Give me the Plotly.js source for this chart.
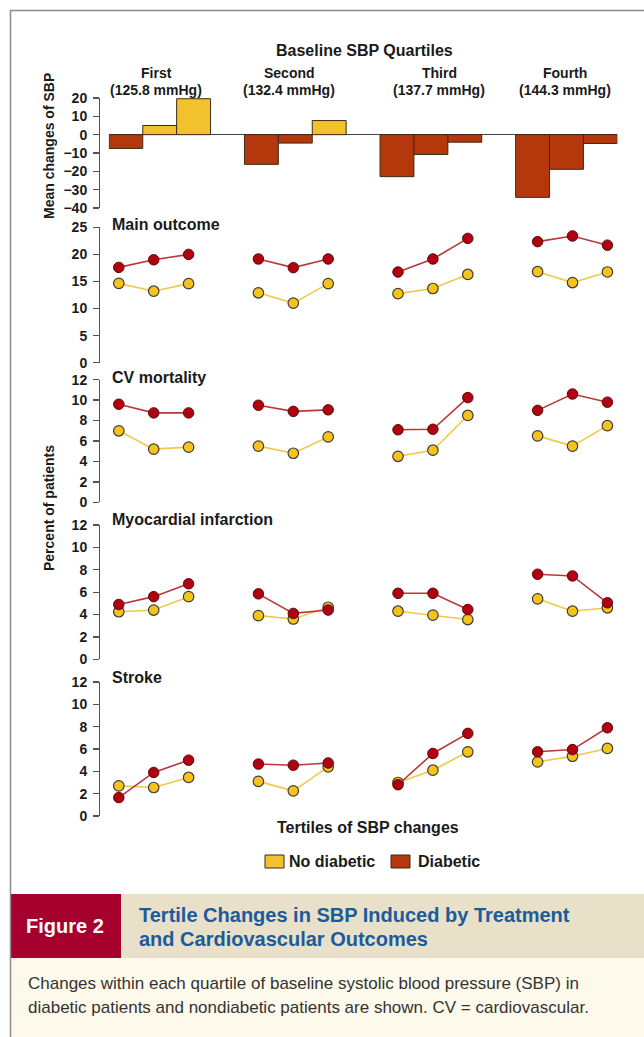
<!DOCTYPE html>
<html><head><meta charset="utf-8">
<script src="https://cdn.plot.ly/plotly-3.0.1.min.js"></script>
<style>html,body{margin:0;padding:0;background:#fff}#chart{width:644px;height:1037px}</style>
</head><body><div id="chart"></div>
<script>
// ---------- data ----------
const quartiles = ['First', 'Second', 'Third', 'Fourth'];
const baselineSBP = ['(125.8 mmHg)', '(132.4 mmHg)', '(137.7 mmHg)', '(144.3 mmHg)'];
const tertiles = [1, 2, 3];
// mean change of SBP per tertile within each quartile
const sbpChange = [-7.5, 5.0, 19.6, -16.2, -4.6, 7.7, -22.9, -10.8, -4.1, -34.2, -18.9, -4.8];
// percent of patients
const mainNoDiab = [14.65, 13.2, 14.6, 12.9, 11.0, 14.6, 12.75, 13.7, 16.3, 16.8, 14.8, 16.75];
const mainDiab   = [17.6, 19.0, 20.0, 19.15, 17.55, 19.15, 16.75, 19.15, 22.95, 22.35, 23.4, 21.7];
const cvNoDiab   = [7.0, 5.2, 5.4, 5.5, 4.8, 6.4, 4.5, 5.1, 8.5, 6.5, 5.5, 7.5];
const cvDiab     = [9.6, 8.75, 8.75, 9.5, 8.9, 9.05, 7.1, 7.15, 10.25, 9.0, 10.6, 9.8];
const miNoDiab   = [4.25, 4.4, 5.6, 3.9, 3.6, 4.65, 4.3, 3.95, 3.55, 5.4, 4.3, 4.6];
const miDiab     = [4.9, 5.6, 6.75, 5.85, 4.1, 4.4, 5.9, 5.9, 4.45, 7.6, 7.45, 5.05];
const strokeNoDiab = [2.7, 2.55, 3.45, 3.1, 2.25, 4.4, 3.0, 4.1, 5.75, 4.85, 5.35, 6.05];
const strokeDiab   = [1.65, 3.9, 5.0, 4.65, 4.55, 4.75, 2.8, 5.6, 7.4, 5.75, 5.95, 7.9];
const panelTitles = ['Main outcome', 'CV mortality', 'Myocardial infarction', 'Stroke'];
const seriesNames = ['No diabetic', 'Diabetic'];

// ---------- helpers ----------
const W = 644, H = 1037;
const fx = p => p / W;
const fy = p => 1 - p / H;
const FONT = 'Liberation Sans, Arial, Helvetica, sans-serif';
const YEL = '#f2c12e', RED = '#b5380c';
const YEL_LINE = '#f0c94a', RED_LINE = '#b8383a';
const YEL_PT = '#f5c31c', RED_PT = '#b10012';

// position of each tertile: quartile index * 4 + tertile index
const xPos = [];
quartiles.forEach((q, qi) => tertiles.forEach((t, ti) => xPos.push(qi * 4 + ti)));
function withGaps(arr) {
  const out = [];
  arr.forEach((v, i) => { out.push(v); if (i % 3 === 2 && i < arr.length - 1) out.push(null); });
  return out;
}
const xGap = withGaps(xPos);

const traces = [];
traces.push({
  type: 'bar', x: xPos, y: sbpChange, xaxis: 'x2', yaxis: 'y', width: 1,
  marker: { color: sbpChange.map(v => v >= 0 ? YEL : RED), line: { color: '#3a2a1a', width: 1 } },
  showlegend: false, hoverinfo: 'y'
});

const panels = [[mainNoDiab, mainDiab], [cvNoDiab, cvDiab], [miNoDiab, miDiab], [strokeNoDiab, strokeDiab]];
panels.forEach((pair, pi) => {
  const ya = 'y' + (pi + 2);
  traces.push({
    type: 'scatter', mode: 'lines+markers', x: xGap, y: withGaps(pair[0]), xaxis: 'x', yaxis: ya,
    name: seriesNames[0], showlegend: false, connectgaps: false,
    line: { color: YEL_LINE, width: 1.6 },
    marker: { color: YEL_PT, size: 10.5, line: { color: '#3b3b3b', width: 1.2 } }
  });
  traces.push({
    type: 'scatter', mode: 'lines+markers', x: xGap, y: withGaps(pair[1]), xaxis: 'x', yaxis: ya,
    name: seriesNames[1], showlegend: false, connectgaps: false,
    line: { color: RED_LINE, width: 1.6 },
    marker: { color: RED_PT, size: 10.5, line: { color: '#5c0a0a', width: 1 } }
  });
});

const yBase = {
  anchor: 'free', position: fx(99), showline: true, linecolor: '#555', linewidth: 1.3,
  ticks: 'outside', ticklen: 6, tickcolor: '#555', tickwidth: 1.3, showgrid: false, zeroline: false,
  tickfont: { family: FONT, size: 14, color: '#1a1a1a', weight: 'bold' }, ticklabelstandoff: 3, fixedrange: true
};
const layout = {
  width: W, height: H, margin: { l: 0, r: 0, t: 0, b: 0 },
  paper_bgcolor: '#ffffff', plot_bgcolor: 'rgba(0,0,0,0)', showlegend: false,
  font: { family: FONT, color: '#1a1a1a' },
  xaxis: { domain: [fx(101.35), fx(624.85)], range: [-0.5, 14.5], visible: false, anchor: 'y5', fixedrange: true },
  xaxis2: { domain: [fx(108.85), fx(617.35)], range: [-0.5, 14.5], visible: false, anchor: 'y', fixedrange: true },
  yaxis: Object.assign({}, yBase, { domain: [fy(208), fy(98)], range: [-40, 20], dtick: 10,
    zeroline: true, zerolinecolor: '#444', zerolinewidth: 1.2 }),
  yaxis2: Object.assign({}, yBase, { domain: [fy(362.7), fy(227.3)], range: [0, 25], dtick: 5 }),
  yaxis3: Object.assign({}, yBase, { domain: [fy(502.3), fy(379.7)], range: [0, 12], dtick: 2 }),
  yaxis4: Object.assign({}, yBase, { domain: [fy(659.3), fy(525)], range: [0, 12], dtick: 2 }),
  yaxis5: Object.assign({}, yBase, { domain: [fy(816), fy(682)], range: [0, 12], dtick: 2 }),
  shapes: [], annotations: []
};

const A = layout.annotations, S = layout.shapes;
function ann(text, x, y, size, opts) {
  A.push(Object.assign({ text: text, x: fx(x), y: fy(y), xref: 'paper', yref: 'paper', showarrow: false,
    xanchor: 'center', yanchor: 'middle',
    font: { family: FONT, size: size, color: '#1a1a1a', weight: 'bold' } }, opts || {}));
}
ann('Baseline SBP Quartiles', 364, 50, 16);
const qx = [156, 289, 439, 565];
quartiles.forEach((q, i) => { ann(q, qx[i], 73, 14); ann(baselineSBP[i], qx[i], 90, 14); });
const titleY = [225, 377, 519, 677];
panelTitles.forEach((t, i) => ann(t, 110, titleY[i], 16, { xanchor: 'left' }));
ann('Mean changes of SBP', 49, 146, 14, { textangle: -90 });
ann('Percent of patients', 49, 508, 14, { textangle: -90 });
ann('Tertiles of SBP changes', 368, 827, 16);

// legend
S.push({ type: 'rect', xref: 'paper', yref: 'paper', x0: fx(265), x1: fx(284), y0: fy(868), y1: fy(855), fillcolor: YEL, line: { color: '#3a2a1a', width: 1 } });
S.push({ type: 'rect', xref: 'paper', yref: 'paper', x0: fx(391), x1: fx(410), y0: fy(868), y1: fy(855), fillcolor: RED, line: { color: '#3a2a1a', width: 1 } });
ann(seriesNames[0], 287, 861.5, 16, { xanchor: 'left' });
ann(seriesNames[1], 416, 861.5, 16, { xanchor: 'left' });

// frame & caption block
S.push({ type: 'rect', xref: 'paper', yref: 'paper', x0: fx(10.5), x1: fx(121), y0: fy(958), y1: fy(894), fillcolor: '#a6002f', line: { width: 0 }, layer: 'below' });
S.push({ type: 'rect', xref: 'paper', yref: 'paper', x0: fx(121), x1: 1, y0: fy(958), y1: fy(894), fillcolor: '#e8e0c9', line: { width: 0 }, layer: 'below' });
S.push({ type: 'rect', xref: 'paper', yref: 'paper', x0: fx(10.5), x1: 1, y0: 0, y1: fy(958), fillcolor: '#fdf9eb', line: { width: 0 }, layer: 'below' });
S.push({ type: 'line', xref: 'paper', yref: 'paper', x0: fx(10.5), x1: fx(10.5), y0: 0, y1: fy(10), line: { color: '#8c8c8c', width: 1.5 } });
S.push({ type: 'line', xref: 'paper', yref: 'paper', x0: fx(10), x1: 1, y0: fy(10.5), y1: fy(10.5), line: { color: '#8c8c8c', width: 1.5 } });

ann('Figure 2', 65, 926, 20, { font: { family: FONT, size: 20, color: '#ffffff', weight: 'bold' } });
ann('Tertile Changes in SBP Induced by Treatment', 137, 915, 20, { xanchor: 'left', font: { family: FONT, size: 20, color: '#1c5b9a', weight: 'bold' } });
ann('and Cardiovascular Outcomes', 137, 939, 20, { xanchor: 'left', font: { family: FONT, size: 20, color: '#1c5b9a', weight: 'bold' } });
ann('Changes within each quartile of baseline systolic blood pressure (SBP) in', 26, 983, 17, { xanchor: 'left', font: { family: FONT, size: 17, color: '#333333' } });
ann('diabetic patients and nondiabetic patients are shown. CV = cardiovascular.', 26, 1007, 17, { xanchor: 'left', font: { family: FONT, size: 17, color: '#333333' } });

Plotly.newPlot('chart', traces, layout, { staticPlot: true, displayModeBar: false });
</script></body></html>
